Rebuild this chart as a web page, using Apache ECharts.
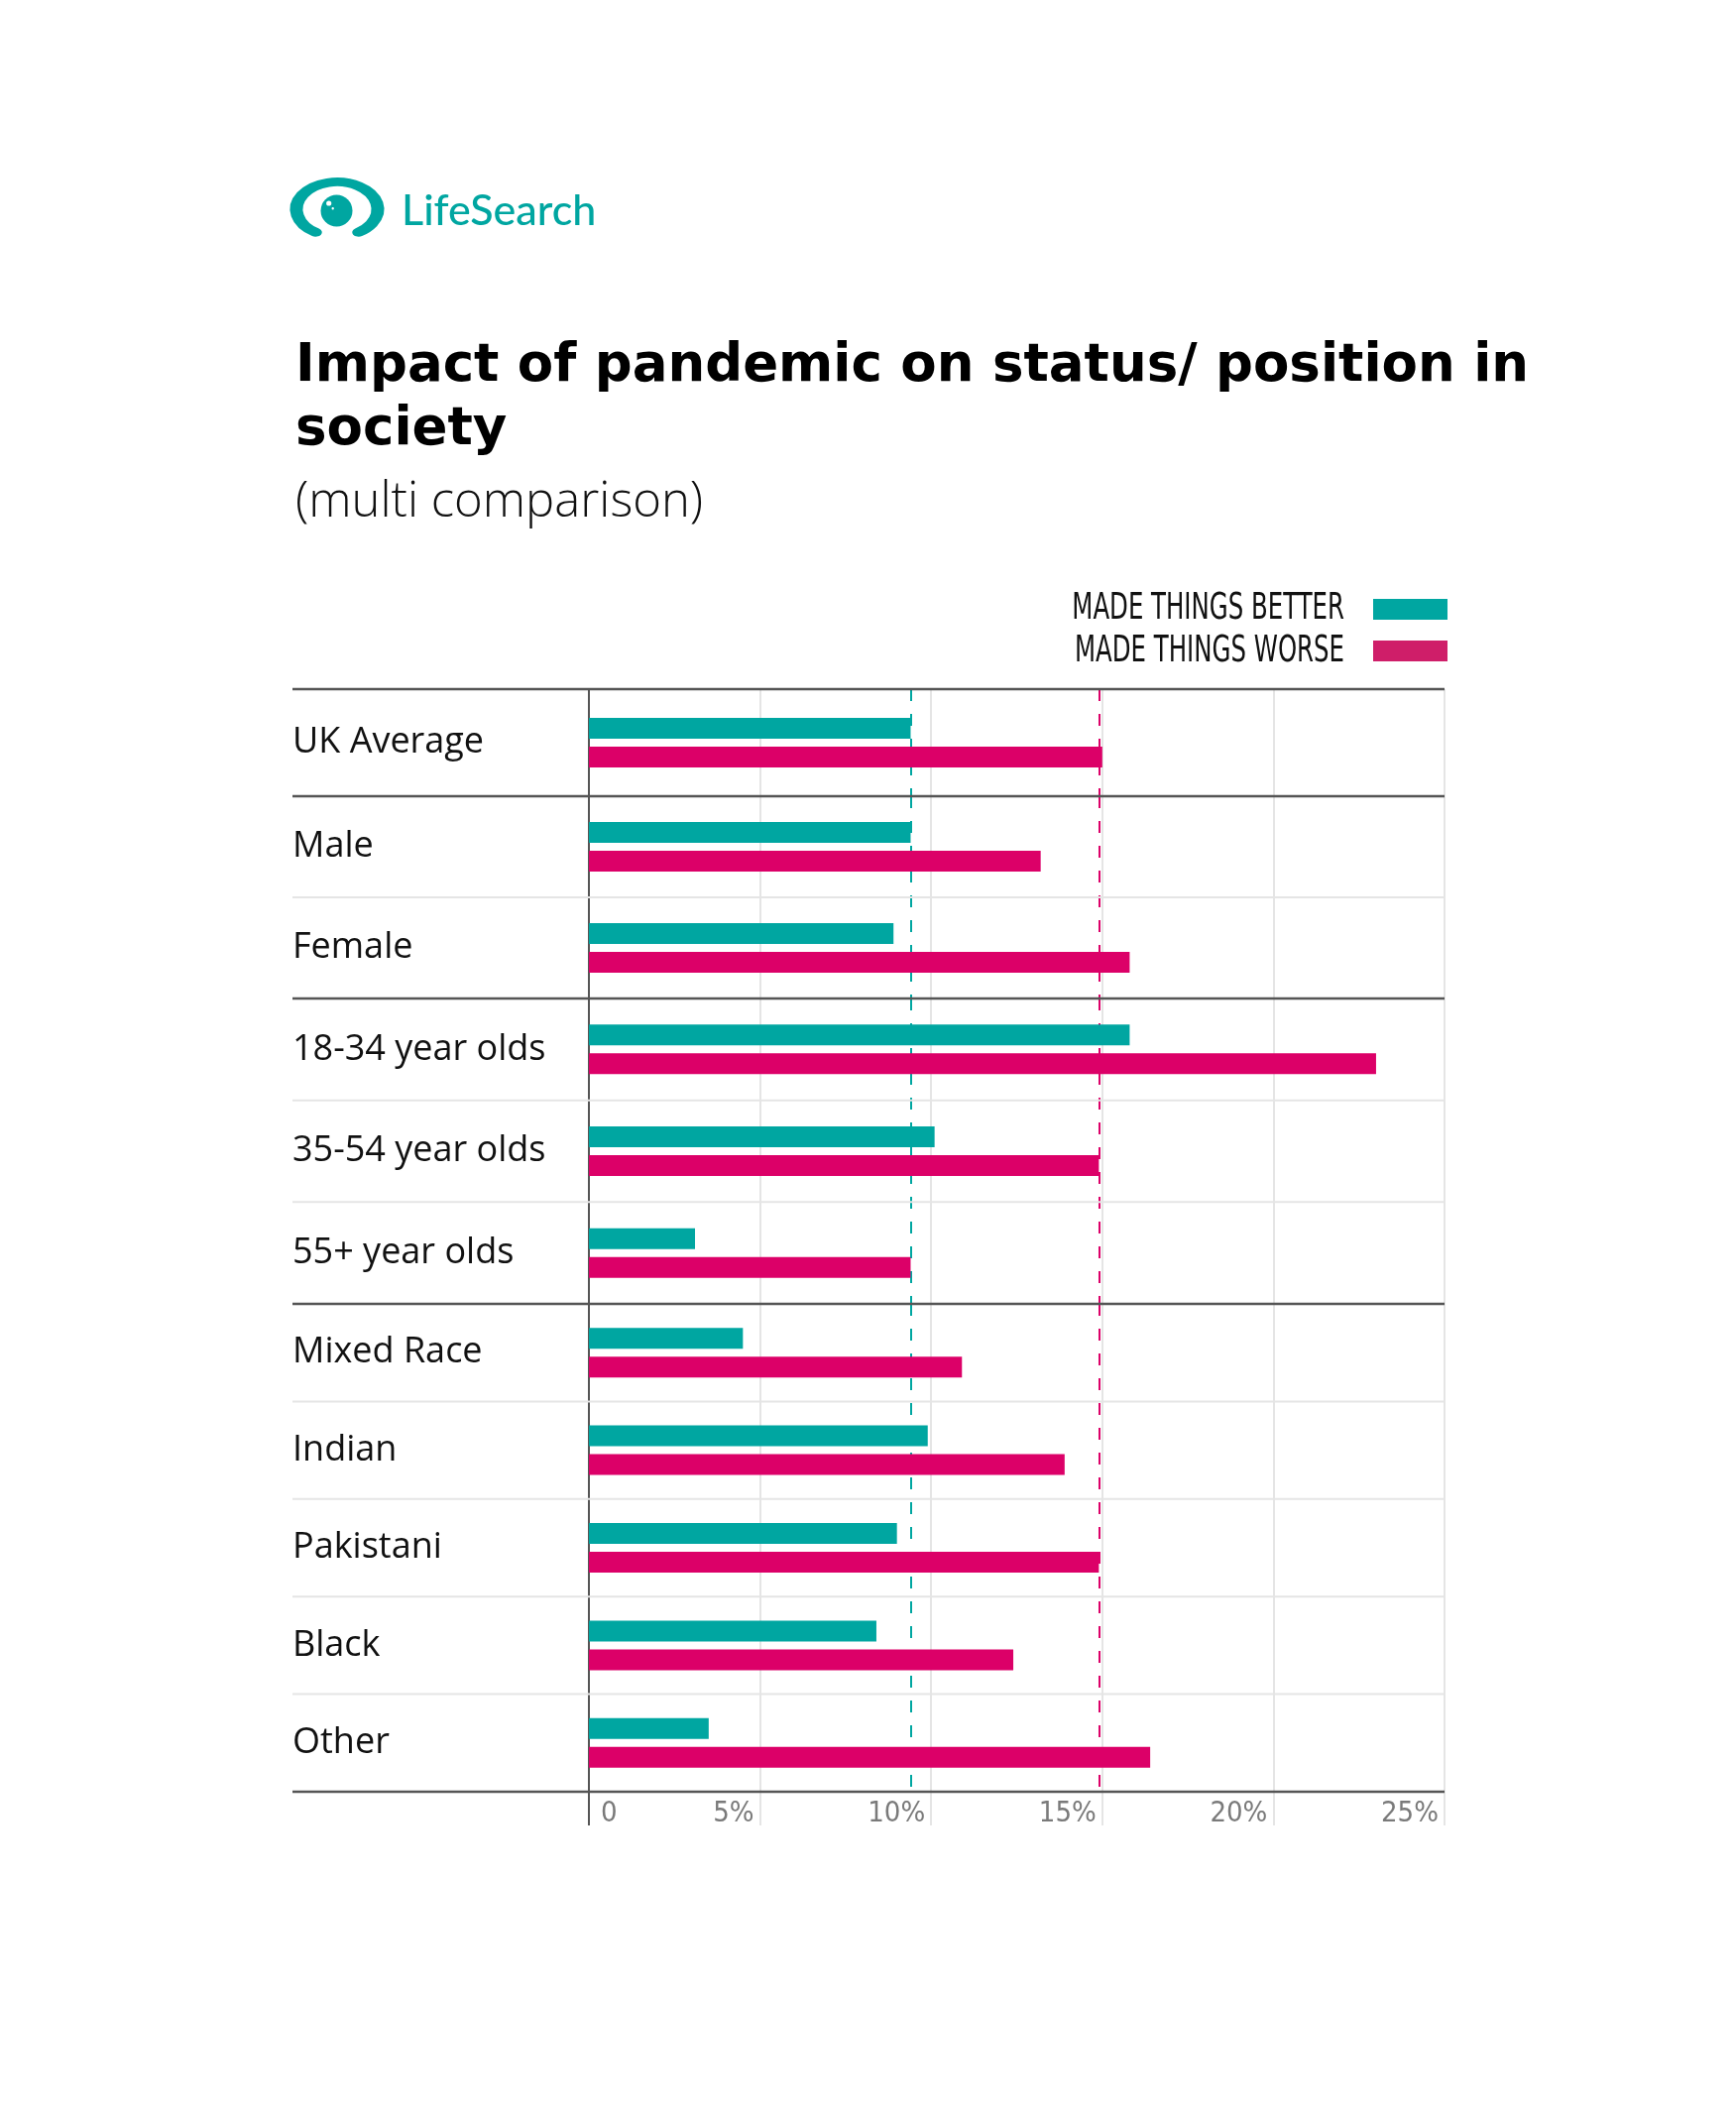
<!DOCTYPE html>
<html>
<head>
<meta charset="utf-8">
<script src="https://cdn.jsdelivr.net/npm/echarts@6/dist/echarts.min.js"></script>
<style>
  html, body { margin: 0; padding: 0; background: #ffffff; }
  #chart { width: 1751px; height: 2130px; }
</style>
</head>
<body>
<div id="chart"></div>
<script>
// ---------------- DATA ----------------
const categories = ['UK Average', 'Male', 'Female', '18-34 year olds', '35-54 year olds', '55+ year olds',
  'Mixed Race', 'Indian', 'Pakistani', 'Black', 'Other'];
const madeBetter = [9.4, 9.4, 8.9, 15.8, 10.1, 3.1, 4.5, 9.9, 9.0, 8.4, 3.5];
const madeWorse = [15.0, 13.2, 15.8, 23.0, 14.9, 9.4, 10.9, 13.9, 14.9, 12.4, 16.4];
const groupSizes = [1, 2, 3, 5];
const averageBetter = 9.4;
const averageWorse = 14.9;
const seriesNames = ['MADE THINGS BETTER', 'MADE THINGS WORSE'];
const titleText = 'Impact of pandemic on status/ position in\nsociety';
const subtitleText = '(multi comparison)';
const brandText = 'LifeSearch';

// ---------------- LAYOUT / STYLE ----------------
const TEAL = '#00a6a1';
const PINK = '#dc0068';
const LEGEND_PINK = '#cf1e69';
const DARK = '#555555';
const LIGHT = '#e5e5e5';
const gridLeft = 594, gridRight = 1457;
const labelLeft = 295;
const groupBounds = [695, 803, 1007, 1315, 1807];
const LABEL_FONT = "'Open Sans', 'Noto Sans', sans-serif";
const BRAND_FONT = "Lato, 'Noto Sans', sans-serif";
const TITLE_FONT = "'DejaVu Sans', sans-serif";
const NARROW_FONT = "'Liberation Sans Narrow', 'DejaVu Sans Condensed', 'Arial Narrow', sans-serif";

const chart = echarts.init(document.getElementById('chart'), null, { renderer: 'canvas' });

const grids = [], xAxes = [], yAxes = [], series = [];
let start = 0;
const lastG = groupSizes.length - 1;
groupSizes.forEach((n, g) => {
  const cats = categories.slice(start, start + n);
  const better = madeBetter.slice(start, start + n);
  const worse = madeWorse.slice(start, start + n);
  start += n;
  const top = groupBounds[g], height = groupBounds[g + 1] - groupBounds[g];
  grids.push({ left: gridLeft, width: gridRight - gridLeft, top: top, height: height, containLabel: false });
  xAxes.push({
    type: 'value', gridIndex: g, min: 0, max: 25, interval: 5, position: 'bottom',
    axisLine: { show: false },
    axisTick: { show: g === lastG, length: 34, lineStyle: { color: LIGHT, width: 2 } },
    splitLine: { show: true, lineStyle: { color: LIGHT, width: 2 } },
    axisLabel: {
      show: g === lastG, align: 'right', margin: 8, padding: [0, 6, 0, 0],
      fontFamily: NARROW_FONT, fontSize: 29, color: '#7a7a7a',
      formatter: v => (v === 0 ? '' : v + '%')
    }
  });
  yAxes.push({
    type: 'category', gridIndex: g, inverse: true, data: cats,
    axisLine: { show: true, lineStyle: { color: DARK, width: 2 } },
    axisTick: { show: false },
    splitLine: { show: false },
    axisLabel: { align: 'left', margin: gridLeft - labelLeft, fontFamily: LABEL_FONT, fontSize: 36, color: '#111' }
  });
  const common = { type: 'bar', xAxisIndex: g, yAxisIndex: g, barWidth: 21, barGap: '38%', silent: true };
  series.push(Object.assign({}, common, {
    name: seriesNames[0], data: better, itemStyle: { color: TEAL },
    markLine: {
      silent: true, symbol: 'none', z: 1, label: { show: false },
      lineStyle: { color: TEAL, type: [12, 13], width: 2 },
      data: [{ xAxis: averageBetter }]
    }
  }));
  series.push(Object.assign({}, common, {
    name: seriesNames[1], data: worse, itemStyle: { color: PINK },
    markLine: {
      silent: true, symbol: 'none', z: 1, label: { show: false },
      lineStyle: { color: PINK, type: [12, 13], width: 2 },
      data: [{ xAxis: averageWorse }]
    }
  }));
});
// extra axis on the last grid for the left-aligned "0" label
xAxes.push({
  type: 'value', gridIndex: lastG, min: 0, max: 25, interval: 5, position: 'bottom', offset: 0,
  axisLine: { show: false }, axisTick: { show: false }, splitLine: { show: false },
  axisLabel: {
    show: true, align: 'left', margin: 8, padding: [0, 0, 0, 12],
    fontFamily: NARROW_FONT, fontSize: 29, color: '#7a7a7a',
    formatter: v => (v === 0 ? '0' : '')
  }
});

// separators (decoration): dark between groups, light between rows
const graphics = [];
groupSizes.forEach((n, g) => {
  const top = groupBounds[g], h = (groupBounds[g + 1] - groupBounds[g]) / n;
  for (let k = 1; k < n; k++) {
    graphics.push({ type: 'line', z: 3, shape: { x1: labelLeft, y1: top + k * h, x2: gridRight, y2: top + k * h },
      style: { stroke: LIGHT, lineWidth: 2 } });
  }
});
groupBounds.forEach(y => {
  graphics.push({ type: 'line', z: 4, shape: { x1: labelLeft, y1: y, x2: gridRight, y2: y },
    style: { stroke: DARK, lineWidth: 2.5 } });
});
// zero line extension below the axis
const axisBottom = groupBounds[groupBounds.length - 1];
graphics.push({ type: 'line', z: 4, shape: { x1: gridLeft, y1: axisBottom, x2: gridLeft, y2: axisBottom + 34 },
  style: { stroke: DARK, lineWidth: 2 } });
// logo (eye)
const deg = Math.PI / 180;
graphics.push({ type: 'arc', z: 5, x: 340, y: 211, scaleY: 27.5 / 41,
  shape: { cx: 0, cy: 0, r: 41, startAngle: 122 * deg, endAngle: 418 * deg, clockwise: true },
  style: { fill: 'none', stroke: TEAL, lineWidth: 13, lineCap: 'round' } });
graphics.push({ type: 'circle', z: 5, shape: { cx: 339.5, cy: 212.5, r: 16 }, style: { fill: TEAL } });
graphics.push({ type: 'circle', z: 6, shape: { cx: 331.7, cy: 205, r: 2.6 }, style: { fill: '#ffffff' } });
graphics.push({ type: 'circle', z: 6, shape: { cx: 335.7, cy: 210.3, r: 1.2 }, style: { fill: '#ffffff' } });
// legend labels in a condensed look (horizontally compressed real text)
const legendTextY = [614, 657];
seriesNames.forEach((name, i) => {
  graphics.push({ type: 'text', z: 6, x: 1356, y: legendTextY[i], scaleX: 0.66,
    style: { text: name, fontFamily: "'DejaVu Sans', sans-serif", fontSize: 37, fill: '#111',
      align: 'right', verticalAlign: 'middle' } });
});

const option = {
  backgroundColor: '#ffffff',
  animation: false,
  title: [
    { text: brandText, left: 400, top: 187,
      textStyle: { fontFamily: BRAND_FONT, fontSize: 43, fontWeight: 500, color: TEAL } },
    { text: titleText, subtext: subtitleText, left: 293, top: 333, itemGap: 14,
      textStyle: { fontFamily: TITLE_FONT, fontSize: 53, fontWeight: 'bold', color: '#000', lineHeight: 64 },
      subtextStyle: { fontFamily: "'Open Sans', sans-serif", fontSize: 49, fontWeight: 300, color: '#111', lineHeight: 54 } }
  ],
  legend: {
    orient: 'vertical', right: 1751 - 1460, top: 604, align: 'right', padding: 0,
    itemWidth: 75, itemHeight: 21, itemGap: 21, icon: 'rect',
    formatter: () => '',
    textStyle: { fontSize: 8, padding: 0 },
    data: [
      { name: seriesNames[0], itemStyle: { color: TEAL } },
      { name: seriesNames[1], itemStyle: { color: LEGEND_PINK } }
    ]
  },
  grid: grids,
  xAxis: xAxes,
  yAxis: yAxes,
  series: series,
  graphic: { elements: graphics }
};
chart.setOption(option);
</script>
</body>
</html>
